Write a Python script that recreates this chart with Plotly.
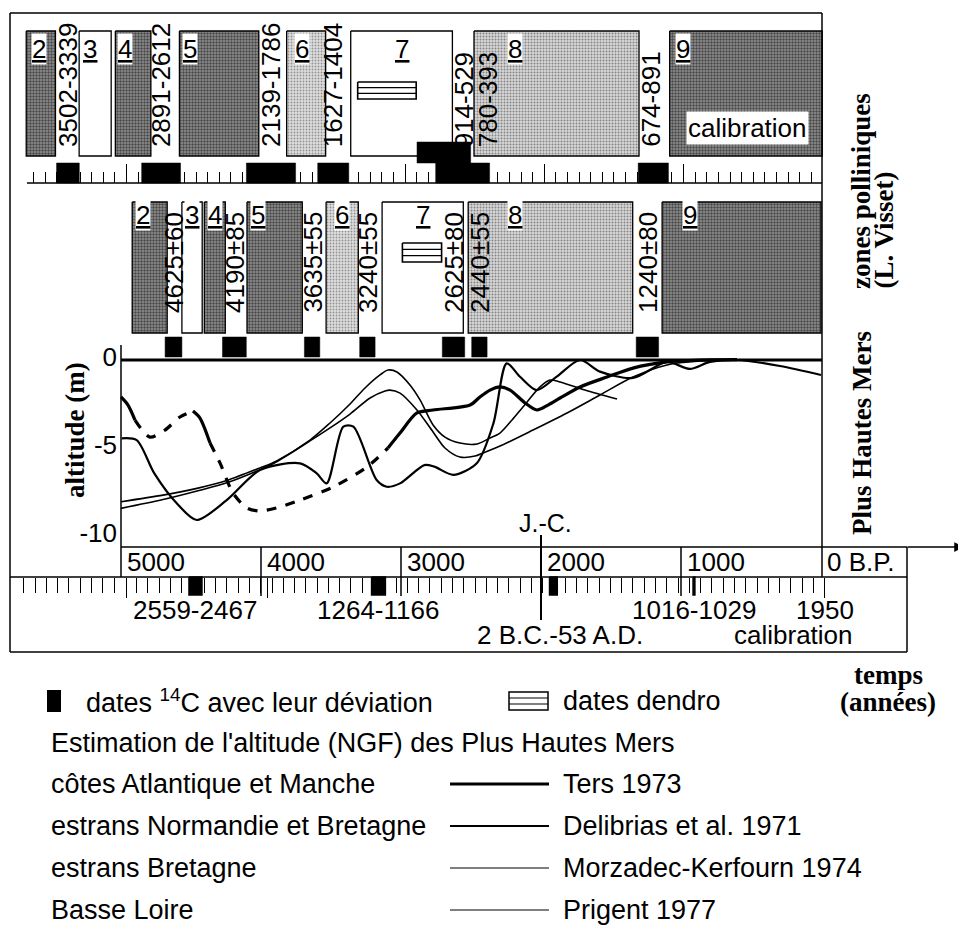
import numpy as np
import plotly.graph_objects as go

SANS = 'Liberation Sans, Arial, Helvetica, sans-serif'
SERIF = 'Liberation Serif, Times New Roman, serif'

# ---------------- données ----------------
zone_names = ['2', '3', '4', '5', '6', '7', '8', '9']
zone_shade = ['dark', 'white', 'dark', 'dark', 'light', 'white', 'medium', 'dark']

# zones polliniques sur l'échelle calibrée (années, négatif = av. J.-C.)
cal_zone_start = [-3720, -3340, -3080, -2620, -1850, -1390, -505, 900]
cal_zone_end = [-3510, -3110, -2825, -2050, -1570, -660, 680, 1995]

# zones polliniques sur l'échelle 14C (B.P.)
bp_zone_start = [4920, 4565, 4405, 4100, 3535, 3135, 2520, 1135]
bp_zone_end = [4670, 4420, 4255, 3705, 3305, 2555, 1345, 0]

# dates calibrées (bande du haut)
cal_date_from = [-3502, -2891, -2139, -1627, -914, -780, 674]
cal_date_to = [-3339, -2612, -1786, -1404, -529, -393, 891]
cal_date_level = [0, 0, 0, 0, 1, 0, 0]
cal_date_labels = ['3502-3339', '2891-2612', '2139-1786', '1627-1404',
                   '914-529', '780-393', '674-891']

# dates 14C et leur déviation (bande du milieu)
c14_dates = [4625, 4190, 3635, 3240, 2625, 2440, 1240]
c14_dev = [60, 85, 55, 55, 80, 55, 80]

# dates dendro
dendro_cal = [-1340, -920]
dendro_bp = [2990, 2710]

# échelle de calibration (bas)
calib_from = [-2559, -1264, -2, 1016]
calib_to = [-2467, -1166, 53, 1029]
calib_labels = ['2559-2467', '1264-1166', '2 B.C.-53 A.D.', '1016-1029']

bp_ticks = [5000, 4000, 3000, 2000, 1000, 0]
bp_tick_text = ['5000', '4000', '3000', '2000', '1000', '0 B.P.']
alt_ticks = [0, -5, -10]

# Plus Hautes Mers : Ters 1973 (d = segment suivant en pointillé)
ters_bp = [5000, 4950, 4900, 4793, 4686, 4579, 4486, 4436, 4364, 4293, 4200, 4100,
           4007, 3864, 3721, 3486, 3243, 3093, 3007, 2886, 2771, 2507, 2436, 2364,
           2293, 2221, 2114, 2029, 1950, 1864, 1721, 1529, 1343, 1100, 864, 600]
ters_alt = [-2.27, -2.73, -3.58, -4.55, -4.15, -3.41, -3.07, -3.47, -4.89, -6.02, -7.73, -8.58,
            -8.75, -8.52, -8.13, -7.39, -6.25, -5.17, -4.32, -3.18, -3.01, -2.73, -2.27, -1.88,
            -1.70, -1.88, -2.61, -3.01, -2.73, -2.33, -1.70, -1.14, -0.63, -0.28, -0.17, -0.15]
ters_style = ['s', 's', 'd', 'd', 'd', 'd', 's', 's', 'd', 'd', 'd', 'd',
              'd', 'd', 'd', 'd', 'd', 's', 's', 's', 's', 's', 's', 's',
              's', 's', 's', 's', 's', 's', 's', 's', 's', 's', 's', 's']

# Delibrias et al. 1971
delib_bp = [4995, 4888, 4762, 4602, 4459, 4245, 4007, 3721, 3602, 3531, 3412, 3340,
            3174, 3102, 3007, 2833, 2762, 2626, 2459, 2340, 2245, 2150, 2031, 1888,
            1721, 1579, 1343, 1100, 936, 793, 600, 293, 0]
delib_alt = [-4.62, -4.72, -6.61, -8.31, -9.26, -8.13, -6.42, -6.04, -6.61, -7.18, -3.96, -3.96,
             -6.99, -7.37, -7.18, -6.14, -6.23, -6.70, -6.04, -3.77, -0.36, -1.12, -1.88, -1.12,
             -0.17, -0.83, -1.19, -0.28, -0.68, -0.28, -0.17, -0.51, -1.02]

# Morzadec-Kerfourn 1974
morz_bp = [5000, 4700, 4450, 4245, 4007, 3888, 3650, 3507, 3364, 3257, 3150, 3093,
           3029, 2936, 2864, 2771, 2686, 2579, 2457, 2364, 2293, 2207, 2129, 2007,
           1936, 1864, 1686, 1457]
morz_alt = [-8.22, -7.85, -7.45, -7.02, -6.30, -5.90, -4.72, -3.75, -2.67, -1.76, -1.02, -0.74,
            -0.85, -1.59, -2.44, -3.86, -4.55, -4.89, -4.94, -4.60, -4.32, -3.58, -2.84, -1.70,
            -1.31, -1.42, -1.88, -2.39]

# Prigent 1977
prig_bp = [5000, 4700, 4450, 4245, 4007, 3888, 3650, 3507, 3364, 3221, 3114, 3079,
           3007, 2886, 2771, 2686, 2579, 2471, 2414, 2293, 2057, 1814, 1579, 1343,
           1100, 864, 600]
prig_alt = [-8.60, -8.10, -7.60, -7.15, -6.40, -5.95, -4.77, -4.03, -3.24, -2.33, -1.93, -1.88,
            -2.05, -3.01, -4.26, -5.17, -5.68, -5.63, -5.45, -5.06, -4.15, -3.18, -2.16, -1.14,
            -0.45, -0.23, -0.17]

# ---------------- mise en page (pixels de la page, marge du body = 8 px) ----------------
OFF = 8
PAGE_W, PAGE_H = 966, 927
FW, FH = PAGE_W - OFF, PAGE_H - OFF

BP_PX0, BP_PX_PER_YR = 821.0, 0.14
ALT_PX0, ALT_PX_PER_M = 357.0, 17.6
TOP_PX0, TOP_YR0, TOP_YR_PER_PX = 68.0, -3420.0, 7.18
BOT_PX0, BOT_PX_PER_YR = 549.8, 0.141


def alt(ypx):
    return (ALT_PX0 - ypx) / ALT_PX_PER_M


def bp(xpx):
    return (BP_PX0 - xpx) / BP_PX_PER_YR


def cal_top(xpx):
    return TOP_YR0 + (xpx - TOP_PX0) * TOP_YR_PER_PX


def cal_bot(xpx):
    return (xpx - BOT_PX0) / BOT_PX_PER_YR


def px(x):
    return (x - OFF) / FW


def py(y):
    return 1 - (y - OFF) / FH


def boxes(x0s, x1s, y0s, y1s):
    xs, ys = [], []
    for a, b, c, d in zip(x0s, x1s, y0s, y1s):
        xs += [a, b, b, a, a, None]
        ys += [c, c, d, d, c, None]
    return xs, ys


SHADES = {
    'dark': dict(fillcolor='#8a8a8a',
                 fillpattern=dict(shape='.', fgcolor='#000000', bgcolor='#939393', size=3, solidity=0.5)),
    'medium': dict(fillcolor='#cfcfcf',
                   fillpattern=dict(shape='.', fgcolor='#333333', bgcolor='#d6d6d6', size=3, solidity=0.35)),
    'light': dict(fillcolor='#d6d6d6',
                  fillpattern=dict(shape='.', fgcolor='#444444', bgcolor='#dedede', size=3, solidity=0.3)),
    'white': dict(fillcolor='white'),
}

fig = go.Figure()

# zones polliniques, bande calibrée
for s, e, shade in zip(cal_zone_start, cal_zone_end, zone_shade):
    xs, ys = boxes([s], [e], [alt(31)], [alt(156)])
    fig.add_trace(go.Scatter(x=xs, y=ys, xaxis='x2', yaxis='y', mode='lines', fill='toself',
                             line=dict(color='black', width=1.3), hoverinfo='skip', **SHADES[shade]))

# zones polliniques, bande 14C
for s, e, shade in zip(bp_zone_start, bp_zone_end, zone_shade):
    xs, ys = boxes([s], [e], [alt(202)], [alt(333)])
    fig.add_trace(go.Scatter(x=xs, y=ys, xaxis='x', yaxis='y', mode='lines', fill='toself',
                             line=dict(color='black', width=1.3), hoverinfo='skip', **SHADES[shade]))

# dates calibrées
y_lo = [alt(183) if lv == 0 else alt(163) for lv in cal_date_level]
y_hi = [alt(163) if lv == 0 else alt(142) for lv in cal_date_level]
xs, ys = boxes(cal_date_from, cal_date_to, y_lo, y_hi)
fig.add_trace(go.Scatter(x=xs, y=ys, xaxis='x2', yaxis='y', mode='lines', fill='toself',
                         fillcolor='black', line=dict(color='black', width=0.5), hoverinfo='skip'))

# dates 14C
c14_lo = [d + v for d, v in zip(c14_dates, c14_dev)]
c14_hi = [d - v for d, v in zip(c14_dates, c14_dev)]
xs, ys = boxes(c14_lo, c14_hi, [alt(357)] * len(c14_dates), [alt(337)] * len(c14_dates))
fig.add_trace(go.Scatter(x=xs, y=ys, xaxis='x', yaxis='y', mode='lines', fill='toself',
                         fillcolor='black', line=dict(color='black', width=0.5), hoverinfo='skip'))

# dates de la calibration
xs, ys = boxes(calib_from, calib_to, [alt(577)] * len(calib_from), [alt(595)] * len(calib_from))
fig.add_trace(go.Scatter(x=xs, y=ys, xaxis='x3', yaxis='y', mode='lines', fill='toself',
                         fillcolor='black', line=dict(color='black', width=1.5), hoverinfo='skip'))

# dates dendro
for (a, b), axis, (t, u) in [(dendro_cal, 'x2', (82, 99)), (dendro_bp, 'x', (243, 262))]:
    xs, ys = boxes([a], [b], [alt(t)], [alt(u)])
    fig.add_trace(go.Scatter(x=xs, y=ys, xaxis=axis, yaxis='y', mode='lines', fill='toself',
                             fillcolor='white', line=dict(color='black', width=1.6), hoverinfo='skip'))
    h = (u - t) / 3
    fig.add_trace(go.Scatter(x=[a, b, None, a, b], y=[alt(t + h)] * 2 + [None] + [alt(t + 2 * h)] * 2,
                             xaxis=axis, yaxis='y', mode='lines',
                             line=dict(color='black', width=1.3), hoverinfo='skip'))

# courbes des Plus Hautes Mers
run_start = 0
for i in range(1, len(ters_bp)):
    if i == len(ters_bp) - 1 or ters_style[i] != ters_style[run_start]:
        seg = slice(run_start, i + 1)
        fig.add_trace(go.Scatter(x=ters_bp[seg], y=ters_alt[seg], mode='lines',
                                 line=dict(color='black', width=3.2, shape='spline', smoothing=0.8,
                                           dash='dash' if ters_style[run_start] == 'd' else 'solid'),
                                 hoverinfo='skip'))
        run_start = i
for xs, ys, wd in [(delib_bp, delib_alt, 2.2), (morz_bp, morz_alt, 1.6), (prig_bp, prig_alt, 1.6)]:
    fig.add_trace(go.Scatter(x=xs, y=ys, mode='lines',
                             line=dict(color='black', width=wd, shape='spline', smoothing=0.8),
                             hoverinfo='skip'))

# ---------------- traits du cadre ----------------
shapes = []


def pline(x0, y0, x1, y1, w=1.5, xref='paper'):
    shapes.append(dict(type='line', xref=xref, yref='paper',
                       x0=x0 if xref != 'paper' else px(x0), x1=x1 if xref != 'paper' else px(x1),
                       y0=py(y0), y1=py(y1), line=dict(color='black', width=w), layer='above'))


pline(10, 13, 10, 652)
pline(10, 13, 822, 13)
pline(822, 13, 822, 577)
pline(10, 652, 907, 652)
pline(907, 547, 907, 652)
pline(27, 183, 822, 183)
pline(121, 360, 822, 360, w=3)
pline(121, 345, 121, 577)
pline(121, 547, 907, 547)
pline(10, 577, 907, 577)
for v in [4000, 3000, 1000]:
    pline(v, 547, v, 596, xref='x')
pline(2000, 535, 2000, 620, w=2, xref='x')

# légende
shapes.append(dict(type='rect', xref='paper', yref='paper', x0=px(47), x1=px(61), y0=py(690), y1=py(712),
                   fillcolor='black', line=dict(width=0)))
shapes.append(dict(type='rect', xref='paper', yref='paper', x0=px(509), x1=px(548), y0=py(692), y1=py(710),
                   fillcolor='white', line=dict(color='black', width=1.5)))
pline(509, 698, 548, 698, w=1.2)
pline(509, 704, 548, 704, w=1.2)
legend_rows = [784, 826, 868, 910]
legend_widths = [3.0, 1.8, 1.1, 1.1]
for yy, wd in zip(legend_rows, legend_widths):
    pline(450, yy, 549, yy, w=wd)

# ---------------- textes ----------------
ann = []


def text(x, y, t, size=26, family=SANS, xref='paper', yref='paper', **kw):
    d = dict(x=x, y=y, text=t, xref=xref, yref=yref, showarrow=False,
             xanchor='center', yanchor='middle',
             font=dict(family=family, size=size, color='black'))
    d.update(kw)
    ann.append(d)


# étiquettes des zones
top_dx = [13, 11, 10, 11, 15, None, 41, 13]
mid_dx = [11, 10, 11, 11, 16, None, 47, 28]
for name, s, e, dx in zip(zone_names, cal_zone_start, cal_zone_end, top_dx):
    text(s if dx is not None else (s + e) / 2, py(49), '<u>' + name + '</u>', xref='x2',
         xshift=dx or 0, bgcolor='white' if dx is not None else None, borderpad=0)
for name, s, e, dx in zip(zone_names, bp_zone_start, bp_zone_end, mid_dx):
    text(s if dx is not None else (s + e) / 2, py(215), '<u>' + name + '</u>', xref='x',
         xshift=dx or 0, bgcolor='white' if dx is not None else None, borderpad=0)

# dates calibrées (verticales)
cal_label_shift = [0, 0, 0, 0, 20, 25, -3]
for a, b, lab, sh in zip(cal_date_from, cal_date_to, cal_date_labels, cal_label_shift):
    text((a + b) / 2, py(149), lab, xref='x2', textangle=-90, yanchor='bottom', xshift=sh)
text(px(747), py(128), 'calibration', bgcolor='white', borderpad=1)

# dates 14C (verticales)
for d, v in zip(c14_dates, c14_dev):
    text(d, py(315), f'{d}±{v}', xref='x', textangle=-90, yanchor='bottom')

# axe des temps B.P.
for v, lab in zip(bp_ticks, bp_tick_text):
    text(v, py(562), lab, xref='x', xanchor='left', xshift=4)
text(2000, py(523), 'J.-C.', xref='x', size=25, xshift=4)

# calibration (bas)
for a, b, lab in zip(calib_from, calib_to, calib_labels):
    if lab.startswith('2 B.C'):
        text((a + b) / 2, py(635), lab, xref='x3', xshift=7)
    else:
        text((a + b) / 2, py(610), lab, xref='x3')
text(1950, py(610), '1950', xref='x3')
text(px(793), py(635), 'calibration')

# titres en serif gras
text(px(75), py(430), '<b>altitude (m)</b>', size=27, family=SERIF, textangle=-90)
text(px(861), py(291), '<b>zones polliniques</b>', size=27, family=SERIF, textangle=-90, yanchor='bottom')
text(px(883), py(291), '<b>(L. Visset)</b>', size=27, family=SERIF, textangle=-90, yanchor='bottom')
text(px(862), py(537), '<b>Plus Hautes Mers</b>', size=27, family=SERIF, textangle=-90, yanchor='bottom')
text(px(888), py(675), '<b>temps</b>', size=27, family=SERIF)
text(px(888), py(702), '<b>(années)</b>', size=27, family=SERIF)

# légende
text(px(84), py(701), 'dates <sup>14</sup>C avec leur déviation', size=27, xanchor='left')
text(px(561), py(701), 'dates dendro', size=27, xanchor='left')
text(px(49), py(743), "Estimation de l'altitude (NGF) des Plus Hautes Mers", size=27, xanchor='left')
left_names = ['côtes Atlantique et Manche', 'estrans Normandie et Bretagne', 'estrans Bretagne', 'Basse Loire']
authors = ['Ters 1973', 'Delibrias et al. 1971', 'Morzadec-Kerfourn 1974', 'Prigent 1977']
for yy, l, r in zip(legend_rows, left_names, authors):
    text(px(49), py(yy), l, size=27, xanchor='left')
    text(px(561), py(yy), r, size=27, xanchor='left')

# flèche du temps
ann.append(dict(x=px(964), y=py(547), xref='paper', yref='paper', ax=-58, ay=0, text='',
                showarrow=True, arrowhead=2, arrowsize=1.3, arrowwidth=1.5, arrowcolor='black'))

top_minor = [v for v in np.arange(-3000 - 8 * 1000 / 12, 1990, 1000 / 12)
             if abs(v - round(v / 1000) * 1000) > 20]
bot_minor = [v for v in np.arange(1950, -3810, -80)
             if min(abs(v + 3000), abs(v + 2000), abs(v - 1950)) > 20]

fig.update_layout(
    width=FW, height=FH, autosize=False,
    margin=dict(l=0, r=0, t=0, b=0),
    paper_bgcolor='white', plot_bgcolor='rgba(0,0,0,0)',
    showlegend=False,
    xaxis=dict(range=[bp(OFF), bp(PAGE_W)], domain=[0, 1], visible=False),
    xaxis2=dict(range=[cal_top(OFF), cal_top(PAGE_W)], overlaying='x', anchor='free', position=py(183),
                side='top', showgrid=False, zeroline=False, showline=False, showticklabels=False,
                ticks='outside', tickvals=[-3000, -2000, -1000, 0, 1000], ticklen=19, tickwidth=1.3,
                tickcolor='black',
                minor=dict(tickmode='array', tickvals=top_minor, ticks='outside', ticklen=11,
                           tickwidth=1.3, tickcolor='black', showgrid=False)),
    xaxis3=dict(range=[cal_bot(OFF), cal_bot(PAGE_W)], overlaying='x', anchor='free', position=py(577),
                side='bottom', showgrid=False, zeroline=False, showline=False, showticklabels=False,
                ticks='outside', tickvals=[-3000, -2000, 1950], ticklen=20, tickwidth=1.3,
                tickcolor='black',
                minor=dict(tickmode='array', tickvals=bot_minor, ticks='outside', ticklen=15,
                           tickwidth=1.2, tickcolor='black', showgrid=False)),
    yaxis=dict(range=[alt(PAGE_H), alt(OFF)], domain=[0, 1], anchor='free', position=px(121),
               showgrid=False, zeroline=False, showline=False, ticks='',
               tickvals=alt_ticks, ticktext=[str(v) for v in alt_ticks], ticklabelstandoff=4,
               tickfont=dict(family=SANS, size=26, color='black')),
    shapes=shapes,
    annotations=ann,
)

fig.write_html('out.html')
